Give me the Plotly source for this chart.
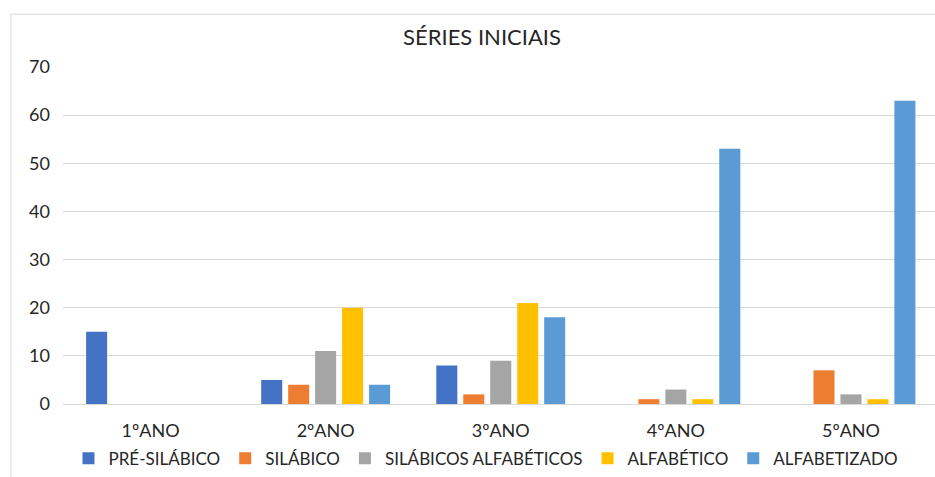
import plotly.graph_objects as go

categories = ["1ºANO", "2ºANO", "3ºANO", "4ºANO", "5ºANO"]
series_names = ["PRÉ-SILÁBICO", "SILÁBICO", "SILÁBICOS ALFABÉTICOS", "ALFABÉTICO", "ALFABETIZADO"]
pre_silabico = [15, 5, 8, 0, 0]
silabico = [0, 4, 2, 1, 7]
silabicos_alfabeticos = [0, 11, 9, 3, 2]
alfabetico = [0, 20, 21, 1, 1]
alfabetizado = [0, 4, 18, 53, 63]
colors = ["#4472C4", "#ED7D31", "#A5A5A5", "#FFC000", "#5B9BD5"]
y_ticks = [0, 10, 20, 30, 40, 50, 60, 70]

font_family = "Lato, Open Sans, sans-serif"

fig = go.Figure()
for name, vals, col in zip(series_names,
                           [pre_silabico, silabico, silabicos_alfabeticos, alfabetico, alfabetizado],
                           colors):
    fig.add_trace(go.Bar(x=list(range(len(categories))), y=vals, name=name, marker_color=col,
                         marker_line_width=0))

W, H = 935, 477
ml, mr, mt, mb = 63, 0, 67, 71
pw = W - ml - mr
ph = H - mt - mb

fig.update_layout(
    width=W, height=H,
    margin=dict(l=ml, r=mr, t=mt, b=mb),
    paper_bgcolor="white", plot_bgcolor="white",
    barmode="group", bargap=0.23, bargroupgap=0.22,
    font=dict(family=font_family, color="#404040", size=17),
    title=dict(text="SÉRIES INICIAIS", x=482 / W, xanchor="center", y=1 - 37 / H, yanchor="middle",
               font=dict(size=22, color="#262626", family=font_family)),
    xaxis=dict(tickmode="array", tickvals=list(range(len(categories))), ticktext=categories,
               range=[-0.5, 4.48], showgrid=False, showline=False, ticks="",
               ticklabelstandoff=14, tickfont=dict(size=18, color="#262626")),
    yaxis=dict(range=[0, 70], tickvals=y_ticks, showgrid=True, gridcolor="#D9D9D9", gridwidth=1,
               zeroline=True, zerolinecolor="#D9D9D9", zerolinewidth=1, ticks="",
               ticklabelstandoff=12, tickfont=dict(size=18, color="#262626")),
    legend=dict(orientation="h", x=(486 - ml) / pw, xanchor="center", y=(ph - (461 - mt)) / ph,
                yanchor="middle", font=dict(size=17, color="#262626"), itemwidth=30,
                traceorder="normal", bgcolor="rgba(0,0,0,0)"),
    shapes=[
        dict(type="line", xref="paper", yref="paper", x0=(11 - ml) / pw, x1=(11 - ml) / pw,
             y0=(ph - (14 - mt)) / ph, y1=(ph - (H + 5 - mt)) / ph, line=dict(color="#E6E6E6", width=1.5)),
        dict(type="line", xref="paper", yref="paper", x0=(11 - ml) / pw, x1=1.02,
             y0=(ph - (14 - mt)) / ph, y1=(ph - (14 - mt)) / ph, line=dict(color="#E6E6E6", width=1.5)),
    ],
)

fig.write_html("out.html")
